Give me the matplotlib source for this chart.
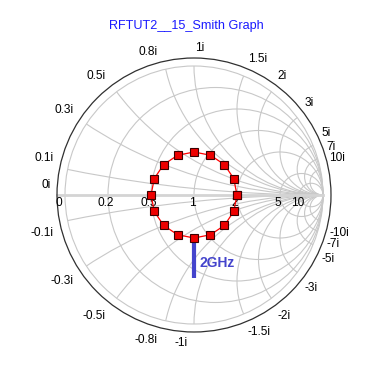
import numpy as np
import matplotlib
matplotlib.use("Agg")
import matplotlib.pyplot as plt
from matplotlib.patches import Circle

plt.rcParams['font.family'] = ['Liberation Sans', 'DejaVu Sans']

TITLE = "RFTUT2__15_Smith Graph"

# normalized impedance of the trace points (r + jx)
R_PTS = [2.0, 1.795, 1.39, 1.038, 0.8, 0.651, 0.562, 0.515, 0.5,
         0.515, 0.562, 0.651, 0.8, 1.038, 1.39, 1.795, 2.0]
X_PTS = [0.0, -0.515, -0.737, -0.72, -0.6, -0.451, -0.298, -0.148, 0.0,
         0.148, 0.298, 0.451, 0.6, 0.72, 0.737, 0.515, 0.0]
MARK_IDX = 4
MARK_TEXT = "2GHz"

R_GRID = [0, 0.2, 0.5, 1, 2, 5, 10]
X_GRID = [0.1, 0.3, 0.5, 0.8, 1, 1.5, 2, 3, 5, 7, 10]
X_LABELS = [0] + X_GRID + [-x for x in X_GRID]

PX = 0.72          # points per pixel at 100 dpi
SCALE = 129.0      # pixels per unit of gamma
R_OUT = 137 / SCALE
GRID_COL = '#c8c8c8'


def gamma(z):
    return (z - 1) / (z + 1)


fig = plt.figure(figsize=(3.85, 3.66), dpi=100)
ax = fig.add_axes([0, 0, 1, 1])
ax.set_xlim(-194 / SCALE, 191 / SCALE)
ax.set_ylim(-171 / SCALE, 195 / SCALE)
ax.axis('off')

# grid: constant resistance circles
for r in R_GRID:
    ax.add_patch(Circle((r / (r + 1), 0), 1 / (r + 1), fill=False,
                        ec=GRID_COL, lw=0.8, zorder=1))

# grid: constant reactance arcs, clipped to the unit circle
clip = Circle((0, 0), 1, transform=ax.transData)
for x in X_GRID:
    for s in (1, -1):
        arc = Circle((1, s / x), 1 / x, fill=False, ec=GRID_COL, lw=0.8, zorder=1)
        ax.add_patch(arc)
        arc.set_clip_path(clip)

ax.plot([-R_OUT, 1], [0, 0], color='#d4d4d4', lw=2, zorder=1.5)
ax.add_patch(Circle((0, 0), R_OUT, fill=False, ec='#303030', lw=0.9, zorder=2))

# resistance labels on the real axis
for r in R_GRID:
    g = gamma(r)
    dx = -6 if r == 0 else -2
    ax.annotate(f"{r:g}", (g, 0), xytext=(dx * PX, -2 * PX), textcoords='offset points',
                ha='center', va='top', fontsize=8.6, zorder=2)

# reactance labels around the outer circle
for x in X_LABELS:
    g = gamma(1j * x) if x != 0 else -1 + 0j
    px, py = R_OUT * g.real, R_OUT * g.imag
    left = g.real > 1e-9 or (abs(g.real) < 1e-9 and g.imag > 0)
    if left:
        ha, dx = 'left', 1
    else:
        ha, dx = 'right', -6
    if x >= 0:
        va, dy = 'bottom', 3.5
    else:
        va, dy = 'top', -5
    ax.annotate(f"{x:g}i", (px, py), xytext=(dx * PX, dy * PX), textcoords='offset points',
                ha=ha, va=va, fontsize=8.6, zorder=2)

# trace
z = np.array(R_PTS) + 1j * np.array(X_PTS)
g = gamma(z)
ax.plot(g.real, g.imag, color='#ff0000', lw=0.9, zorder=3)
ax.plot(g.real, g.imag, ls='none', marker='s', ms=6.2, mfc='#ee0000',
        mec='#3a0000', mew=0.8, zorder=5)

# frequency marker
gm = g[MARK_IDX]
ax.plot([gm.real, gm.real], [gm.imag, gm.imag - 40 / SCALE], color='#4444cc',
        lw=3, solid_capstyle='butt', zorder=4)
ax.annotate(MARK_TEXT, (gm.real, gm.imag), xytext=(5 * PX, -25 * PX),
            textcoords='offset points', ha='left', va='center', fontsize=10,
            fontweight='bold', color='#4444cc', zorder=4)

fig.text(186.7 / 385, 1 - 29 / 366, TITLE, ha='center', va='baseline',
         fontsize=9.1, color='#1a1aff')

fig.savefig("out.png", dpi=100)
